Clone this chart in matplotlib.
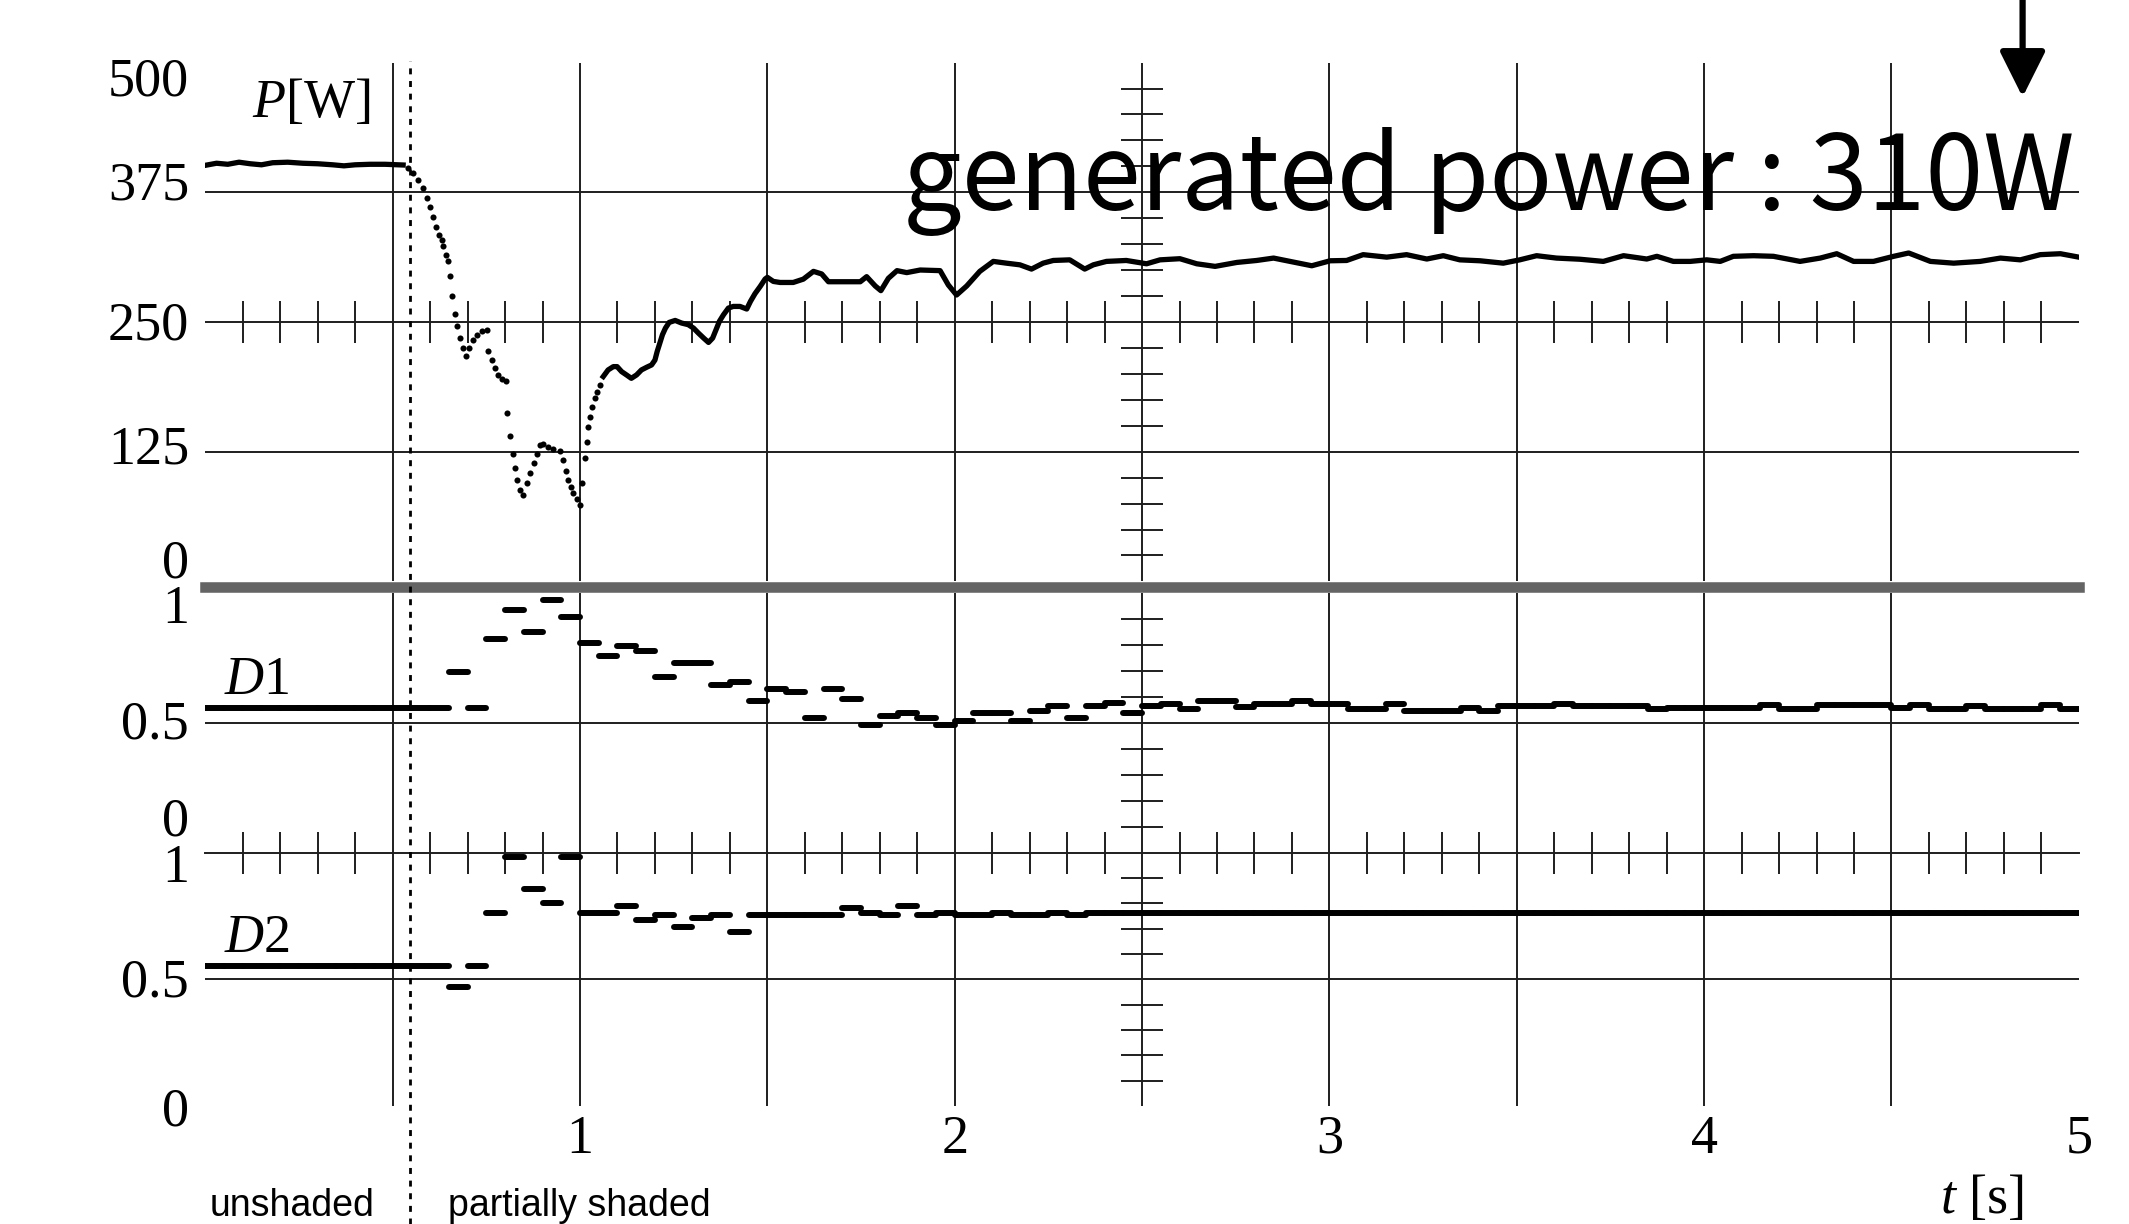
import numpy as np
import matplotlib
matplotlib.use('Agg')
import matplotlib.pyplot as plt
from matplotlib.transforms import blended_transform_factory

plt.rcParams['mathtext.fontset'] = 'custom'
plt.rcParams['mathtext.rm'] = 'Liberation Serif'
plt.rcParams['mathtext.it'] = 'Liberation Serif:italic'

# generated power P [W]
p_t = [0.00, 0.03, 0.06, 0.09, 0.12, 0.15, 0.18, 0.22, 0.26, 0.30, 0.34, 0.37, 0.40, 0.44, 0.48, 0.528,
       0.542, 0.555, 0.568, 0.580, 0.591, 0.600, 0.609, 0.617, 0.624, 0.631, 0.635, 0.642, 0.649,
       0.653, 0.659, 0.666, 0.673, 0.680, 0.687, 0.696, 0.705, 0.714, 0.725, 0.738, 0.751, 0.755,
       0.764, 0.773, 0.782, 0.791, 0.803, 0.806, 0.813, 0.820, 0.827, 0.833, 0.840, 0.849, 0.858,
       0.867, 0.876, 0.884, 0.893, 0.902, 0.915, 0.929, 0.947, 0.955, 0.962, 0.969, 0.975, 0.982,
       0.991, 1.000, 1.006, 1.013, 1.018, 1.022, 1.028, 1.033, 1.040, 1.046, 1.053, 1.062,
       1.075, 1.089, 1.099, 1.111, 1.124, 1.137, 1.151, 1.164, 1.178, 1.191, 1.200, 1.206, 1.213,
       1.220, 1.228, 1.238, 1.254, 1.271, 1.289, 1.303, 1.316, 1.330, 1.343, 1.354, 1.363, 1.372,
       1.383, 1.396, 1.409, 1.427, 1.445, 1.455, 1.467, 1.481, 1.494, 1.500, 1.516, 1.534, 1.569,
       1.596, 1.623, 1.645, 1.663, 1.694, 1.748, 1.765, 1.788, 1.803, 1.823, 1.846, 1.872, 1.908,
       1.961, 1.983, 2.005, 2.032, 2.067, 2.103, 2.138, 2.174, 2.205, 2.236, 2.263, 2.307, 2.347,
       2.370, 2.405, 2.458, 2.512, 2.548, 2.601, 2.646, 2.695, 2.753, 2.806, 2.851, 2.895, 2.953,
       3.002, 3.046, 3.090, 3.153, 3.206, 3.260, 3.304, 3.348, 3.402, 3.464, 3.508, 3.553, 3.606,
       3.668, 3.731, 3.785, 3.847, 3.874, 3.918, 3.963, 4.007, 4.043, 4.078, 4.132, 4.185, 4.256,
       4.310, 4.354, 4.399, 4.452, 4.506, 4.546, 4.604, 4.666, 4.737, 4.791, 4.844, 4.897, 4.951,
       5.000]
p_w = [401.0, 403.0, 402.0, 404.0, 402.5, 401.5, 403.5, 404.0, 403.0, 402.5, 401.5, 400.5, 401.5, 402.0, 402.0, 401.3,
       398.1, 393.3, 386.9, 378.9, 369.3, 361.2, 351.6, 342.0, 334.0, 329.2, 322.8, 314.8, 308.4,
       293.9, 274.7, 258.0, 245.8, 234.5, 224.9, 216.9, 224.9, 232.9, 237.7, 240.9, 242.5, 221.6,
       213.6, 205.6, 199.1, 195.0, 192.7, 162.2, 139.7, 123.0, 109.2, 97.9, 88.3, 83.5, 94.7,
       104.4, 114.0, 123.0, 131.7, 132.7, 129.5, 127.6, 125.3, 117.3, 106.1, 97.9, 90.9, 85.1,
       79.3, 73.9, 94.7, 118.8, 133.9, 148.6, 158.9, 167.9, 176.6, 183.0, 189.4, 197.4,
       203.8, 207.0, 207.0, 202.2, 199.0, 195.7, 199.0, 203.8, 206.4, 208.6, 213.3, 221.6, 229.6,
       237.7, 244.1, 249.6, 251.5, 249.0, 247.4, 244.1, 239.3, 234.5, 230.3, 234.5, 242.5, 250.6,
       257.0, 263.4, 265.0, 265.0, 262.5, 269.9, 277.3, 284.3, 291.4, 293.0, 289.1, 288.1, 288.1,
       291.3, 298.8, 296.3, 288.8, 288.8, 288.8, 293.7, 284.7, 280.2, 292.1, 299.5, 297.6, 300.1,
       299.5, 285.7, 276.0, 284.7, 298.8, 308.4, 306.7, 305.1, 301.0, 306.7, 309.3, 309.9, 301.0,
       305.1, 308.4, 309.3, 306.1, 309.9, 311.0, 306.1, 303.6, 307.4, 309.3, 311.6, 308.4, 304.2,
       309.0, 309.3, 314.9, 312.5, 314.9, 310.7, 313.9, 309.9, 309.0, 306.7, 309.9, 313.9, 311.6,
       310.5, 308.4, 313.9, 310.7, 313.3, 308.4, 308.4, 309.9, 308.4, 313.3, 313.9, 313.3, 308.4,
       311.6, 315.8, 308.4, 308.4, 313.3, 316.5, 308.4, 306.7, 308.4, 311.6, 309.9, 314.9, 315.8,
       312.5]

# duty ratios, one value per 0.05 s control step (0 ... 4.95 s)
step = 0.05
d1 = ([0.555] * 13 +
      [0.694, 0.555, 0.822, 0.933, 0.850, 0.971, 0.905, 0.805, 0.758, 0.795, 0.777, 0.675,
       0.731, 0.731, 0.645, 0.655, 0.583, 0.630, 0.619, 0.519, 0.629, 0.592, 0.490, 0.526,
       0.536, 0.518, 0.490, 0.508, 0.536, 0.536, 0.508, 0.545, 0.564, 0.517, 0.564, 0.575,
       0.536, 0.564, 0.573, 0.551, 0.584, 0.584, 0.561, 0.572, 0.572, 0.584, 0.572, 0.572,
       0.551, 0.551, 0.572, 0.545, 0.545, 0.545, 0.557, 0.545, 0.564, 0.564, 0.564, 0.572,
       0.564, 0.564, 0.564, 0.564, 0.553, 0.556, 0.556, 0.556, 0.556, 0.556, 0.567, 0.553,
       0.553, 0.567, 0.567, 0.567, 0.567, 0.556, 0.567, 0.553, 0.553, 0.564, 0.553, 0.553,
       0.553, 0.567, 0.553])
d2 = ([0.553] * 13 +
      [0.471, 0.553, 0.763, 0.982, 0.857, 0.800, 0.982, 0.763, 0.763, 0.791, 0.734, 0.754,
       0.705, 0.743, 0.754, 0.686, 0.754, 0.754, 0.754, 0.754, 0.754, 0.783, 0.763, 0.754,
       0.791, 0.754, 0.763, 0.754, 0.754, 0.763, 0.754, 0.754, 0.763, 0.754] +
      [0.763] * 53)

p_ticks = ['500', '375', '250', '125', '0']
d_ticks = ['1', '0.5', '0']
t_ticks = [1, 2, 3, 4, 5]

gc = '#1e1e1e'
serif = 'Liberation Serif'

fig = plt.figure(figsize=(21.29, 12.24), dpi=100)
L, W = 0.09643, 0.87999
axP = fig.add_axes([L, 0.52500, W, 0.42386])
ax1 = fig.add_axes([L, 0.30335, W, 0.21242])
ax2 = fig.add_axes([L, 0.09649, W, 0.20686])
axP.set_ylim(0, 500)
for ax in (ax1, ax2):
    ax.set_ylim(0, 1)
for ax in (axP, ax1, ax2):
    ax.set_xlim(0, 5)
    ax.set_axis_off()
    for xv in np.arange(0.5, 5.0, 0.5):
        ax.axvline(xv, color=gc, lw=1.4, zorder=1)

# scope grid
for yv in (125, 250, 375):
    axP.axhline(yv, color=gc, lw=1.4, zorder=1)
ax1.axhline(0.5, color=gc, lw=1.4, zorder=1)
ax2.axhline(0.5, color=gc, lw=1.4, zorder=1)
ax2.axhline(1.0, color=gc, lw=1.4, zorder=1, clip_on=False)
axP.axhline(-5, color='#646464', lw=7.6, zorder=3, clip_on=False)

minor_t = [k / 10 for k in range(1, 50) if k % 5]
axP.plot(minor_t, [250] * len(minor_t), ls='none', marker='|', ms=30, mew=1.4, color=gc, zorder=1)
ax2.plot(minor_t, [1.0] * len(minor_t), ls='none', marker='|', ms=30, mew=1.4, color=gc,
         zorder=1, clip_on=False)
p_minor = [v for v in range(25, 500, 25) if v % 125]
d_minor = [0.1, 0.2, 0.3, 0.4, 0.6, 0.7, 0.8, 0.9]
axP.plot([2.5] * len(p_minor), p_minor, ls='none', marker='_', ms=30, mew=1.4, color=gc, zorder=1)
for ax in (ax1, ax2):
    ax.plot([2.5] * len(d_minor), d_minor, ls='none', marker='_', ms=30, mew=1.4, color=gc, zorder=1)

# power trace: solid where samples are dense, dots through the fast transient
pt = np.array(p_t)
pw = np.array(p_w)
a = pt <= 0.53
b = (pt > 0.53) & (pt < 1.062)
c = pt >= 1.062
axP.plot(pt[a], pw[a], color='black', lw=3.8, solid_joinstyle='round', zorder=4)
axP.plot(pt[b], pw[b], ls='none', marker='o', ms=4.4, mew=0, color='black', zorder=4)
axP.plot(pt[c], pw[c], color='black', lw=3.8, solid_joinstyle='round', zorder=4)

# duty ratios as held steps
t0 = np.arange(len(d1)) * step
ax1.hlines(d1, t0, t0 + step, colors='black', lw=4.3, capstyle='round', zorder=4)
ax2.hlines(d2, t0, t0 + step, colors='black', lw=4.3, capstyle='round', zorder=4)

# tick labels
fs = 39
trP = blended_transform_factory(axP.transAxes, axP.transData)
for lab, yy in zip(p_ticks, [468, 367.6, 233.6, 113.5, 3.5]):
    axP.text(-0.0087, yy, lab, transform=trP, ha='right', va='baseline', fontsize=fs, family=serif)
for ax, ys in ((ax1, [0.885, 0.441, 0.0665]), (ax2, [0.884, 0.4325, -0.078])):
    tr = blended_transform_factory(ax.transAxes, ax.transData)
    for lab, yy in zip(d_ticks, ys):
        ax.text(-0.0087, yy, lab, transform=tr, ha='right', va='baseline', fontsize=fs, family=serif)
for tv in t_ticks:
    ax2.text(tv, -0.186, str(tv), ha='center', va='baseline', fontsize=fs, family=serif)

axP.text(0.1246, 447.6, '$P$[W]', ha='left', va='baseline', fontsize=fs, family=serif)
ax1.text(0.05, 0.61, '$D$1', ha='left', va='baseline', fontsize=fs, family=serif)
ax2.text(0.05, 0.608, '$D$2', ha='left', va='baseline', fontsize=fs, family=serif)
ax2.text(4.63, -0.423, '$t$ [s]', ha='left', va='baseline', fontsize=fs, family=serif)

# shading onset
ax2.plot([0.546, 0.546], [-0.467, 4.127], color='black', lw=2, ls=(0, (2.15, 2.4)),
         clip_on=False, zorder=6)
fig.text(210 / 2129, 1 - 1216 / 1224, 'unshaded', fontsize=27, family='Liberation Sans')
fig.text(448 / 2129, 1 - 1216 / 1224, 'partially shaded', fontsize=27, family='Liberation Sans')

axP.text(4.99, 358, 'generated power : 310W', ha='right', va='baseline', fontsize=75,
         family=['Noto Sans CJK JP', 'DejaVu Sans'], zorder=2)
axP.annotate('', xy=(4.85, 466.8), xytext=(4.85, 565), annotation_clip=False,
             arrowprops=dict(arrowstyle='-|>,head_length=1.4,head_width=0.7', lw=4.5,
                             color='black', mutation_scale=20, shrinkA=0, shrinkB=0))

fig.savefig('out.png', dpi=100)
